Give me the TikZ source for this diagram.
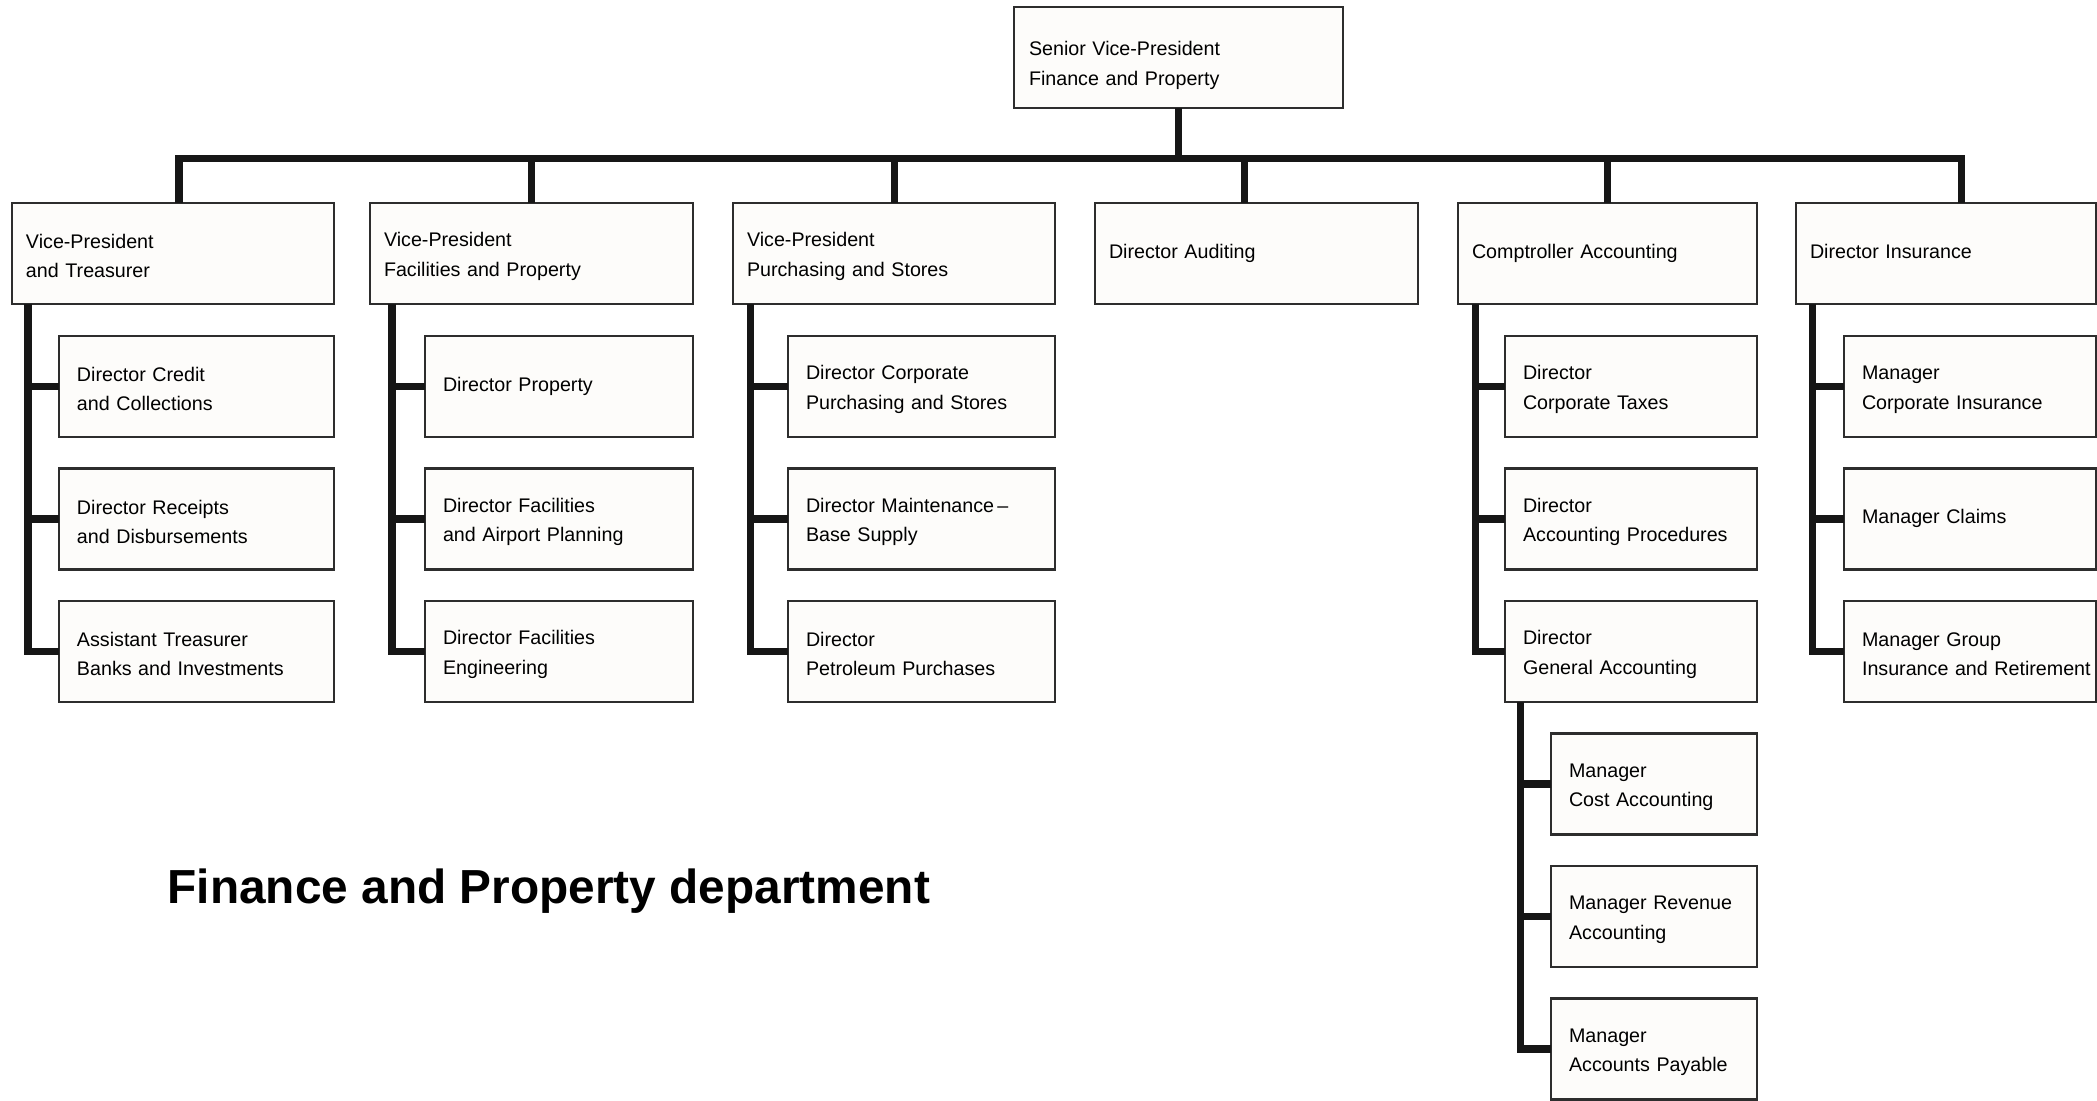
\documentclass[tikz,border=0pt]{standalone}
\usepackage{fontspec}
\setmainfont{Liberation Sans}
\usepackage{xcolor}
\usepackage{tikz}
\usetikzlibrary{positioning}
\definecolor{boxfill}{RGB}{253,252,250}
\definecolor{boxline}{RGB}{45,45,45}
\definecolor{linkline}{RGB}{22,22,22}

\begin{document}
\begin{tikzpicture}[
    node distance=0.315cm,
    every node/.style={font=\fontsize{5.6}{8.3}\selectfont},
    basebox/.style={
        rectangle,
        draw=boxline,
        line width=0.6pt,
        fill=boxfill,
        align=left,
        inner xsep=0pt,
        outer sep=0pt,
        text height=0.2cm,
        minimum height=1.01cm
    },
    oneline/.style={text height=4.1pt, text depth=1.4pt},
    topbox/.style={basebox, minimum width=3.29cm, text width=3.29cm, text height=0.3cm,
        execute at begin node={\leftskip=0.15cm\hyphenpenalty=10000}},
    headbox/.style={basebox, minimum width=#1, text width=#1,
        execute at begin node={\leftskip=0.14cm\hyphenpenalty=10000}},
    subbox/.style={basebox, minimum width=#1, text width=#1,
        execute at begin node={\leftskip=0.18cm\hyphenpenalty=10000}},
    link/.style={line width=2pt, draw=linkline}
]
\useasboundingbox (0,0) rectangle (20.97,-11.01);

% top of the chart
\node[topbox, anchor=north west] (svp) at (10.14,-0.07) {Senior Vice-President\\Finance and Property};

% first level
\node[headbox=3.22cm, anchor=north west] (vpt) at (0.12,-2.03) {Vice-President\\and Treasurer};
\node[headbox=3.23cm, anchor=north west] (vpf) at (3.70,-2.03) {Vice-President\\Facilities and Property};
\node[headbox=3.22cm, anchor=north west] (vpp) at (7.33,-2.03) {Vice-President\\Purchasing and Stores};
\node[headbox=3.23cm, oneline, anchor=north west] (aud) at (10.95,-2.03) {Director Auditing};
\node[headbox=2.99cm, oneline, anchor=north west] (cmp) at (14.58,-2.03) {Comptroller Accounting};
\node[headbox=3.00cm, oneline, anchor=north west] (ins) at (17.96,-2.03) {Director Insurance};

% treasurer
\node[subbox=2.75cm, below=0.32cm of vpt.south east, anchor=north east] (vpt1) {Director Credit\\and Collections};
\node[subbox=2.75cm, below=of vpt1.south east, anchor=north east] (vpt2) {Director Receipts\\and Disbursements};
\node[subbox=2.75cm, below=of vpt2.south east, anchor=north east] (vpt3) {Assistant Treasurer\\Banks and Investments};

% facilities
\node[subbox=2.68cm, oneline, below=0.32cm of vpf.south east, anchor=north east] (vpf1) {Director Property};
\node[subbox=2.68cm, below=of vpf1.south east, anchor=north east] (vpf2) {Director Facilities\\and Airport Planning};
\node[subbox=2.68cm, below=of vpf2.south east, anchor=north east] (vpf3) {Director Facilities\\Engineering};

% purchasing
\node[subbox=2.67cm, below=0.32cm of vpp.south east, anchor=north east] (vpp1) {Director Corporate\\Purchasing and Stores};
\node[subbox=2.67cm, below=of vpp1.south east, anchor=north east] (vpp2) {Director Maintenance\,--\\Base Supply};
\node[subbox=2.67cm, below=of vpp2.south east, anchor=north east] (vpp3) {Director\\Petroleum Purchases};

% comptroller
\node[subbox=2.52cm, below=0.32cm of cmp.south east, anchor=north east] (cmp1) {Director\\Corporate Taxes};
\node[subbox=2.52cm, below=of cmp1.south east, anchor=north east] (cmp2) {Director\\Accounting Procedures};
\node[subbox=2.52cm, below=of cmp2.south east, anchor=north east] (cmp3) {Director\\General Accounting};
\node[subbox=2.06cm, below=of cmp3.south east, anchor=north east] (gen1) {Manager\\Cost Accounting};
\node[subbox=2.06cm, below=of gen1.south east, anchor=north east] (gen2) {Manager Revenue\\Accounting};
\node[subbox=2.06cm, below=of gen2.south east, anchor=north east] (gen3) {Manager\\Accounts Payable};

% insurance
\node[subbox=2.52cm, below=0.32cm of ins.south east, anchor=north east] (ins1) {Manager\\Corporate Insurance};
\node[subbox=2.52cm, oneline, below=of ins1.south east, anchor=north east] (ins2) {Manager Claims};
\node[subbox=2.52cm, below=of ins2.south east, anchor=north east] (ins3) {Manager Group\\Insurance and Retirement};

% caption
\node[anchor=base west, inner sep=0pt, font=\fontsize{13.6}{16}\selectfont\bfseries] (title) at (1.67,-9.03) {Finance and Property department};

% connectors
\coordinate (bus) at (0,-1.585);
\coordinate (s1) at ([xshift=0.06cm]vpt.north);
\coordinate (s4) at ([xshift=-0.12cm]aud.north);
\coordinate (s6) at ([xshift=0.15cm]ins.north);
\draw[link] (svp.south) -- (svp.south |- bus);
\draw[link] (s1) -- (s1 |- bus) -- (s6 |- bus) -- (s6);
\draw[link] (vpf.north) -- (vpf.north |- bus);
\draw[link] (vpp.north) -- (vpp.north |- bus);
\draw[link] (s4) -- (s4 |- bus);
\draw[link] (cmp.north) -- (cmp.north |- bus);

\coordinate (tvpt) at ([xshift=0.16cm]vpt.south west);
\coordinate (tvpf) at ([xshift=0.22cm]vpf.south west);
\coordinate (tvpp) at ([xshift=0.17cm]vpp.south west);
\coordinate (tcmp) at ([xshift=0.17cm]cmp.south west);
\coordinate (tgen) at ([xshift=0.15cm]cmp3.south west);
\coordinate (tins) at ([xshift=0.16cm]ins.south west);

\foreach \t/\c in {tvpt/vpt, tvpf/vpf, tvpp/vpp, tcmp/cmp, tins/ins}{
    \draw[link] (\t) |- (\c3.west);
    \draw[link] (\c1.west) -- (\c1.west -| \t);
    \draw[link] (\c2.west) -- (\c2.west -| \t);
}
\draw[link] (tgen) |- (gen3.west);
\draw[link] (gen1.west) -- (gen1.west -| tgen);
\draw[link] (gen2.west) -- (gen2.west -| tgen);

\end{tikzpicture}
\end{document}
